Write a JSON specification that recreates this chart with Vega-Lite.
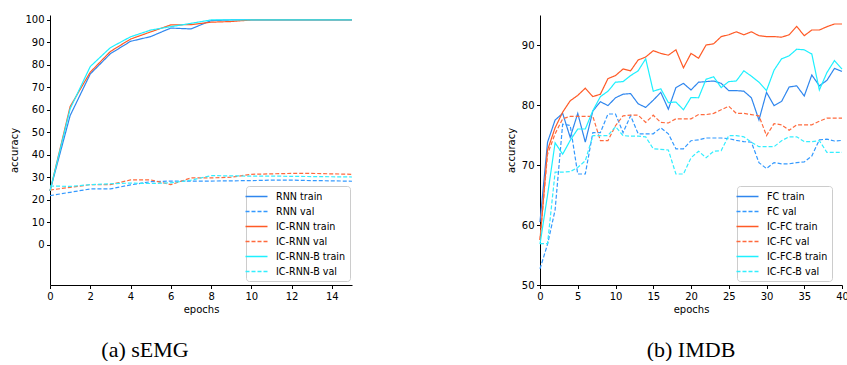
{
  "$schema": "https://vega.github.io/schema/vega-lite/v6.json",
  "background": "white",
  "padding": {"left": 9, "top": 14, "right": 0, "bottom": 0},
  "spacing": 151,
  "datasets": {
    "semg": [
      {"epoch": 0, "RNN train": 24, "RNN val": 21.9, "IC-RNN train": 24, "IC-RNN val": 24.4, "IC-RNN-B train": 24, "IC-RNN-B val": 26.2},
      {"epoch": 1, "RNN train": 57.5, "RNN val": 23.4, "IC-RNN train": 61.5, "IC-RNN val": 25.6, "IC-RNN-B train": 60.5, "IC-RNN-B val": 26},
      {"epoch": 2, "RNN train": 76, "RNN val": 24.9, "IC-RNN train": 76.8, "IC-RNN val": 26.8, "IC-RNN-B train": 79.3, "IC-RNN-B val": 26.8},
      {"epoch": 3, "RNN train": 85, "RNN val": 24.9, "IC-RNN train": 86, "IC-RNN val": 26.8, "IC-RNN-B train": 87.7, "IC-RNN-B val": 27.2},
      {"epoch": 4, "RNN train": 90.5, "RNN val": 26.7, "IC-RNN train": 91.5, "IC-RNN val": 28.9, "IC-RNN-B train": 92.5, "IC-RNN-B val": 27.5},
      {"epoch": 5, "RNN train": 92.6, "RNN val": 28.1, "IC-RNN train": 94.7, "IC-RNN val": 28.9, "IC-RNN-B train": 95.5, "IC-RNN-B val": 27.3},
      {"epoch": 6, "RNN train": 96.4, "RNN val": 28.4, "IC-RNN train": 97.8, "IC-RNN val": 26.8, "IC-RNN-B train": 97, "IC-RNN-B val": 27.6},
      {"epoch": 7, "RNN train": 96, "RNN val": 28.4, "IC-RNN train": 97.9, "IC-RNN val": 29.8, "IC-RNN-B train": 98.5, "IC-RNN-B val": 28.8},
      {"epoch": 8, "RNN train": 99.7, "RNN val": 28.4, "IC-RNN train": 99, "IC-RNN val": 29.8, "IC-RNN-B train": 100, "IC-RNN-B val": 30.8},
      {"epoch": 9, "RNN train": 100, "RNN val": 28.5, "IC-RNN train": 99.3, "IC-RNN val": 30.1, "IC-RNN-B train": 100, "IC-RNN-B val": 30.7},
      {"epoch": 10, "RNN train": 100, "RNN val": 28.6, "IC-RNN train": 100, "IC-RNN val": 31.4, "IC-RNN-B train": 100, "IC-RNN-B val": 30.6},
      {"epoch": 11, "RNN train": 100, "RNN val": 28.8, "IC-RNN train": 100, "IC-RNN val": 31.6, "IC-RNN-B train": 100, "IC-RNN-B val": 30.6},
      {"epoch": 12, "RNN train": 100, "RNN val": 28.8, "IC-RNN train": 100, "IC-RNN val": 31.8, "IC-RNN-B train": 100, "IC-RNN-B val": 30.5},
      {"epoch": 13, "RNN train": 100, "RNN val": 28.6, "IC-RNN train": 100, "IC-RNN val": 31.8, "IC-RNN-B train": 100, "IC-RNN-B val": 30.4},
      {"epoch": 14, "RNN train": 100, "RNN val": 28.5, "IC-RNN train": 100, "IC-RNN val": 31.6, "IC-RNN-B train": 100, "IC-RNN-B val": 30.3},
      {"epoch": 15, "RNN train": 100, "RNN val": 28.3, "IC-RNN train": 100, "IC-RNN val": 31.4, "IC-RNN-B train": 100, "IC-RNN-B val": 30.2}
    ],
    "imdb": [
      {"epoch": 0, "FC train": 60.5, "FC val": 52.7, "IC-FC train": 57.5, "IC-FC val": 57.5, "IC-FC-B train": 56.8, "IC-FC-B val": 56.9},
      {"epoch": 1, "FC train": 73.8, "FC val": 56.8, "IC-FC train": 72.5, "IC-FC val": 71.8, "IC-FC-B train": 65, "IC-FC-B val": 56.9},
      {"epoch": 2, "FC train": 77.5, "FC val": 62.5, "IC-FC train": 76.2, "IC-FC val": 75.2, "IC-FC-B train": 73.7, "IC-FC-B val": 68.8},
      {"epoch": 3, "FC train": 78.6, "FC val": 76.8, "IC-FC train": 78.8, "IC-FC val": 77.7, "IC-FC-B train": 71.8, "IC-FC-B val": 68.8},
      {"epoch": 4, "FC train": 74.6, "FC val": 76.6, "IC-FC train": 80.7, "IC-FC val": 78.1, "IC-FC-B train": 74.1, "IC-FC-B val": 68.9},
      {"epoch": 5, "FC train": 78.6, "FC val": 68.5, "IC-FC train": 81.6, "IC-FC val": 78.1, "IC-FC-B train": 76.0, "IC-FC-B val": 69.6},
      {"epoch": 6, "FC train": 73.8, "FC val": 68.5, "IC-FC train": 82.8, "IC-FC val": 78.1, "IC-FC-B train": 76.0, "IC-FC-B val": 70.7},
      {"epoch": 7, "FC train": 79.0, "FC val": 75.4, "IC-FC train": 81.4, "IC-FC val": 78.1, "IC-FC-B train": 79.05, "IC-FC-B val": 74.9},
      {"epoch": 8, "FC train": 80.55, "FC val": 75.4, "IC-FC train": 81.8, "IC-FC val": 74.05, "IC-FC-B train": 81.4, "IC-FC-B val": 74.9},
      {"epoch": 9, "FC train": 79.9, "FC val": 78.5, "IC-FC train": 84.4, "IC-FC val": 74.05, "IC-FC-B train": 82.3, "IC-FC-B val": 74.9},
      {"epoch": 10, "FC train": 81.2, "FC val": 78.5, "IC-FC train": 84.9, "IC-FC val": 76.55, "IC-FC-B train": 83.8, "IC-FC-B val": 76.4},
      {"epoch": 11, "FC train": 81.8, "FC val": 75.4, "IC-FC train": 86.0, "IC-FC val": 78.2, "IC-FC-B train": 83.9, "IC-FC-B val": 74.9},
      {"epoch": 12, "FC train": 81.9, "FC val": 78.2, "IC-FC train": 85.7, "IC-FC val": 78.3, "IC-FC-B train": 84.9, "IC-FC-B val": 74.8},
      {"epoch": 13, "FC train": 80.2, "FC val": 75.2, "IC-FC train": 87.5, "IC-FC val": 78.3, "IC-FC-B train": 85.7, "IC-FC-B val": 74.8},
      {"epoch": 14, "FC train": 79.6, "FC val": 75.2, "IC-FC train": 88.0, "IC-FC val": 77.1, "IC-FC-B train": 87.7, "IC-FC-B val": 74.7},
      {"epoch": 15, "FC train": 80.8, "FC val": 75.2, "IC-FC train": 89.05, "IC-FC val": 78.3, "IC-FC-B train": 82.3, "IC-FC-B val": 72.7},
      {"epoch": 16, "FC train": 82.1, "FC val": 76.2, "IC-FC train": 88.6, "IC-FC val": 77.1, "IC-FC-B train": 82.7, "IC-FC-B val": 72.6},
      {"epoch": 17, "FC train": 79.3, "FC val": 75.2, "IC-FC train": 88.3, "IC-FC val": 77.0, "IC-FC-B train": 80.4, "IC-FC-B val": 72.5},
      {"epoch": 18, "FC train": 82.9, "FC val": 72.7, "IC-FC train": 89.2, "IC-FC val": 77.7, "IC-FC-B train": 80.5, "IC-FC-B val": 68.5},
      {"epoch": 19, "FC train": 83.6, "FC val": 72.7, "IC-FC train": 86.2, "IC-FC val": 77.7, "IC-FC-B train": 79.2, "IC-FC-B val": 68.5},
      {"epoch": 20, "FC train": 82.5, "FC val": 74.05, "IC-FC train": 88.6, "IC-FC val": 77.7, "IC-FC-B train": 81.25, "IC-FC-B val": 71.2},
      {"epoch": 21, "FC train": 83.8, "FC val": 74.2, "IC-FC train": 87.8, "IC-FC val": 78.4, "IC-FC-B train": 81.2, "IC-FC-B val": 72.3},
      {"epoch": 22, "FC train": 83.9, "FC val": 74.5, "IC-FC train": 90.0, "IC-FC val": 78.4, "IC-FC-B train": 84.3, "IC-FC-B val": 71.2},
      {"epoch": 23, "FC train": 84.0, "FC val": 74.5, "IC-FC train": 90.2, "IC-FC val": 78.6, "IC-FC-B train": 84.7, "IC-FC-B val": 72.3},
      {"epoch": 24, "FC train": 83.6, "FC val": 74.5, "IC-FC train": 91.4, "IC-FC val": 79.2, "IC-FC-B train": 82.9, "IC-FC-B val": 72.4},
      {"epoch": 25, "FC train": 82.4, "FC val": 74.4, "IC-FC train": 91.7, "IC-FC val": 79.8, "IC-FC-B train": 83.9, "IC-FC-B val": 74.9},
      {"epoch": 26, "FC train": 82.4, "FC val": 74.1, "IC-FC train": 92.2, "IC-FC val": 78.6, "IC-FC-B train": 84.0, "IC-FC-B val": 74.9},
      {"epoch": 27, "FC train": 82.3, "FC val": 73.9, "IC-FC train": 91.7, "IC-FC val": 78.6, "IC-FC-B train": 85.7, "IC-FC-B val": 74.7},
      {"epoch": 28, "FC train": 81.2, "FC val": 73.8, "IC-FC train": 92.2, "IC-FC val": 78.4, "IC-FC-B train": 84.8, "IC-FC-B val": 73.8},
      {"epoch": 29, "FC train": 77.5, "FC val": 70.4, "IC-FC train": 91.55, "IC-FC val": 78.2, "IC-FC-B train": 83.8, "IC-FC-B val": 73.05},
      {"epoch": 30, "FC train": 82.1, "FC val": 69.4, "IC-FC train": 91.4, "IC-FC val": 74.9, "IC-FC-B train": 82.4, "IC-FC-B val": 73.05},
      {"epoch": 31, "FC train": 79.9, "FC val": 70.4, "IC-FC train": 91.4, "IC-FC val": 76.9, "IC-FC-B train": 85.8, "IC-FC-B val": 73.05},
      {"epoch": 32, "FC train": 80.6, "FC val": 70.2, "IC-FC train": 91.3, "IC-FC val": 76.7, "IC-FC-B train": 87.7, "IC-FC-B val": 74.05},
      {"epoch": 33, "FC train": 83.0, "FC val": 70.2, "IC-FC train": 91.7, "IC-FC val": 75.8, "IC-FC-B train": 88.2, "IC-FC-B val": 74.7},
      {"epoch": 34, "FC train": 83.2, "FC val": 70.4, "IC-FC train": 93.1, "IC-FC val": 76.7, "IC-FC-B train": 89.3, "IC-FC-B val": 74.7},
      {"epoch": 35, "FC train": 81.5, "FC val": 70.5, "IC-FC train": 91.55, "IC-FC val": 76.7, "IC-FC-B train": 89.2, "IC-FC-B val": 73.9},
      {"epoch": 36, "FC train": 85.0, "FC val": 71.5, "IC-FC train": 92.5, "IC-FC val": 76.7, "IC-FC-B train": 88.5, "IC-FC-B val": 73.9},
      {"epoch": 37, "FC train": 83.2, "FC val": 74.2, "IC-FC train": 92.5, "IC-FC val": 77.3, "IC-FC-B train": 82.5, "IC-FC-B val": 74.05},
      {"epoch": 38, "FC train": 84.1, "FC val": 74.3, "IC-FC train": 93.05, "IC-FC val": 77.8, "IC-FC-B train": 85.4, "IC-FC-B val": 72.1},
      {"epoch": 39, "FC train": 86.1, "FC val": 74.0, "IC-FC train": 93.5, "IC-FC val": 77.8, "IC-FC-B train": 87.4, "IC-FC-B val": 72.1},
      {"epoch": 40, "FC train": 85.6, "FC val": 74.1, "IC-FC train": 93.5, "IC-FC val": 77.8, "IC-FC-B train": 86.0, "IC-FC-B val": 72.1}
    ]
  },
  "config": {
    "font": "DejaVu Sans",
    "view": {"stroke": null},
    "axis": {
      "grid": false,
      "domainColor": "#000000",
      "domainWidth": 1,
      "tickColor": "#000000",
      "tickWidth": 1,
      "tickSize": 3.5,
      "labelPadding": 2.5,
      "labelColor": "#000000",
      "labelFont": "DejaVu Sans",
      "labelFontSize": 10,
      "titleColor": "#000000",
      "titleFont": "DejaVu Sans",
      "titleFontSize": 10,
      "titleFontWeight": "normal"
    },
    "axisX": {"titlePadding": 3, "labelFlush": false},
    "axisY": {"titlePadding": 5},
    "legend": {
      "orient": "none",
      "symbolType": "M-2,0H2",
      "symbolSize": 121,
      "symbolStrokeWidth": 1.5,
      "labelFont": "DejaVu Sans",
      "labelFontSize": 9.6,
      "labelColor": "#000000",
      "labelOffset": 13,
      "rowPadding": 3,
      "padding": 4,
      "strokeColor": "#cccccc",
      "fillColor": "#ffffff",
      "cornerRadius": 3,
      "title": null
    },
    "title": {
      "orient": "bottom",
      "font": "Liberation Serif",
      "fontSize": 22,
      "fontWeight": "normal",
      "color": "#000000",
      "offset": 26
    }
  },
  "hconcat": [
    {
      "width": 302,
      "height": 270,
      "title": {"text": "(a)  sEMG", "anchor": "middle", "dx": -56},
      "data": {"name": "semg"},
      "transform": [{"fold": ["RNN train", "RNN val", "IC-RNN train", "IC-RNN val", "IC-RNN-B train", "IC-RNN-B val"], "as": ["series", "acc"]}],
      "mark": {"type": "line", "strokeWidth": 1.2},
      "encoding": {
        "x": {"field": "epoch", "type": "quantitative", "scale": {"domain": [0, 15], "nice": false}, "axis": {"values": [0, 2, 4, 6, 8, 10, 12, 14], "title": "epochs"}},
        "y": {"field": "acc", "type": "quantitative", "scale": {"domain": [-17.8, 102.2], "nice": false, "zero": false}, "axis": {"values": [0, 10, 20, 30, 40, 50, 60, 70, 80, 90, 100], "title": "accuracy"}},
        "color": {"field": "series", "type": "nominal", "scale": {"domain": ["RNN train", "RNN val", "IC-RNN train", "IC-RNN val", "IC-RNN-B train", "IC-RNN-B val"], "range": ["#2f86ee", "#3399ff", "#ff5a26", "#ff6a3d", "#1ef0ff", "#33eeff"]}, "legend": {"legendX": 196, "legendY": 171}},
        "strokeDash": {"field": "series", "type": "nominal", "scale": {"domain": ["RNN train", "RNN val", "IC-RNN train", "IC-RNN val", "IC-RNN-B train", "IC-RNN-B val"], "range": [[1, 0], [4, 2], [1, 0], [4, 2], [1, 0], [4, 2]]}, "legend": {"legendX": 196, "legendY": 171}}
      }
    },
    {
      "width": 302,
      "height": 270,
      "title": {"text": "(b)  IMDB", "anchor": "middle", "dx": 0},
      "data": {"name": "imdb"},
      "transform": [{"fold": ["FC train", "FC val", "IC-FC train", "IC-FC val", "IC-FC-B train", "IC-FC-B val"], "as": ["series", "acc"]}],
      "mark": {"type": "line", "strokeWidth": 1.2},
      "encoding": {
        "x": {"field": "epoch", "type": "quantitative", "scale": {"domain": [0, 40], "nice": false}, "axis": {"values": [0, 5, 10, 15, 20, 25, 30, 35, 40], "title": "epochs"}},
        "y": {"field": "acc", "type": "quantitative", "scale": {"domain": [50, 95], "nice": false, "zero": false}, "axis": {"values": [50, 60, 70, 80, 90], "title": "accuracy"}},
        "color": {"field": "series", "type": "nominal", "scale": {"domain": ["FC train", "FC val", "IC-FC train", "IC-FC val", "IC-FC-B train", "IC-FC-B val"], "range": ["#2f86ee", "#3399ff", "#ff5a26", "#ff6a3d", "#1ef0ff", "#33eeff"]}, "legend": {"legendX": 197, "legendY": 171}},
        "strokeDash": {"field": "series", "type": "nominal", "scale": {"domain": ["FC train", "FC val", "IC-FC train", "IC-FC val", "IC-FC-B train", "IC-FC-B val"], "range": [[1, 0], [4, 2], [1, 0], [4, 2], [1, 0], [4, 2]]}, "legend": {"legendX": 197, "legendY": 171}}
      }
    }
  ],
  "resolve": {"scale": {"color": "independent", "strokeDash": "independent"}, "legend": {"color": "independent", "strokeDash": "independent"}}
}
